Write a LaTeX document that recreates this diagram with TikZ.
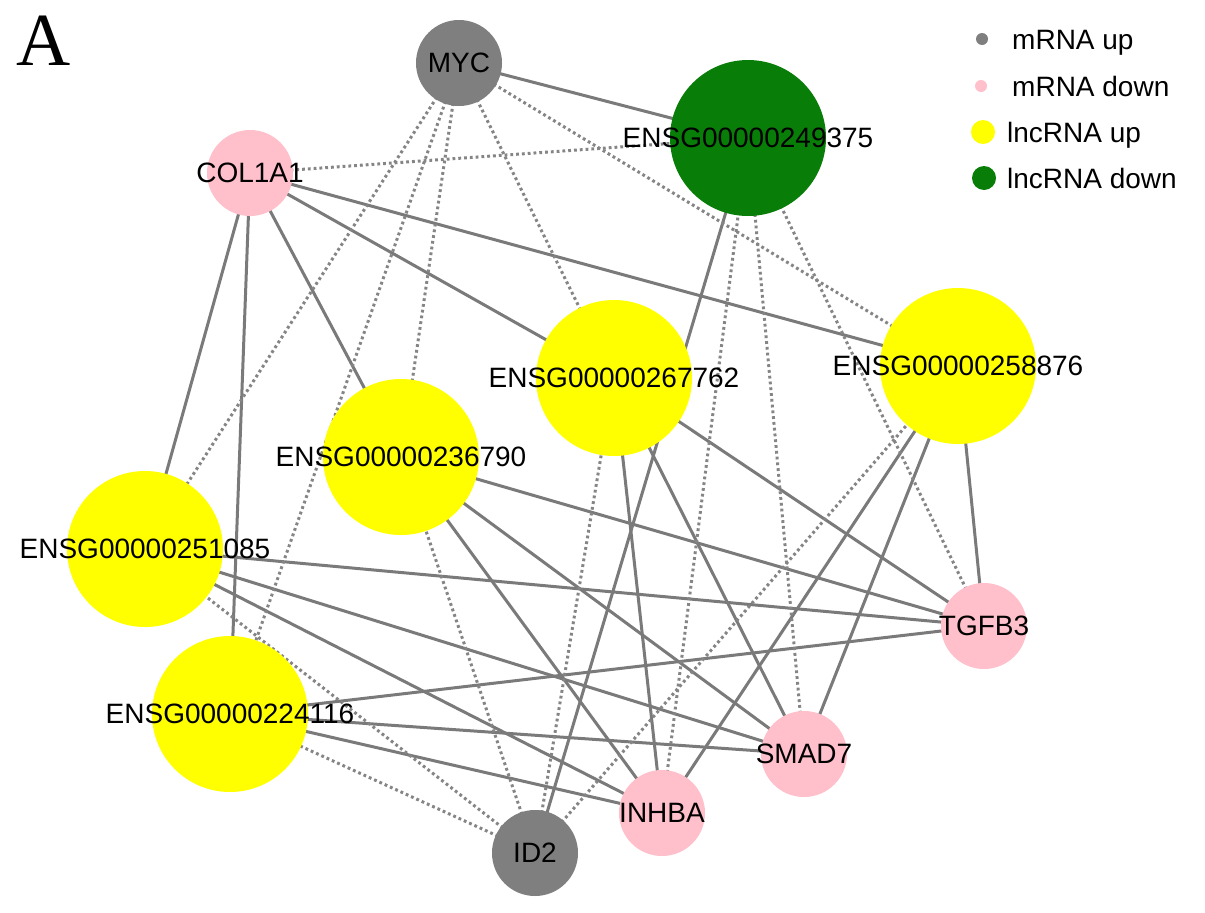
\documentclass[tikz,border=0pt]{standalone}
\usepackage{fontspec}
\setmainfont{Liberation Sans}
\newfontfamily\serifA{Liberation Serif}
\pgfdeclarelayer{bg}
\pgfsetlayers{bg,main}
\definecolor{ngray}{HTML}{7F7F7F}
\definecolor{npink}{HTML}{FFC0CB}
\definecolor{nyellow}{HTML}{FFFF00}
\definecolor{ngreen}{HTML}{087D08}
\definecolor{egray}{HTML}{7A7A7A}
\definecolor{dgray}{HTML}{858585}
\begin{document}
\begin{tikzpicture}[x=1pt,y=-1pt,
  gene/.style={circle,draw=none,minimum size=86pt,inner sep=0pt},
  lnc/.style={circle,draw=none,minimum size=156pt,inner sep=0pt},
  lab/.style={inner sep=0pt,font=\fontsize{28}{28}\selectfont,text=black},
  legtext/.style={inner sep=0pt,anchor=base west,font=\fontsize{28}{28}\selectfont,text=black},
  legdot/.style={circle,draw=none,inner sep=0pt},
  posedge/.style={draw=egray,line width=3pt},
  negedge/.style={draw=dgray,line width=3pt,dash pattern=on 2.8pt off 3pt}]
\useasboundingbox (0,0) rectangle (1205,913);

\node[font=\serifA\fontsize{75}{75}\selectfont,anchor=base,inner sep=0pt] (panelA) at (44,65) {A};

% mRNA nodes
\node[gene,fill=ngray] (MYC) at (459,63) {};
\node[gene,fill=npink] (COL) at (250,173) {};
\node[gene,fill=npink] (TGFB) at (984,626) {};
\node[gene,fill=npink] (SMAD) at (804,754) {};
\node[gene,fill=npink] (INHBA) at (662,813) {};
\node[gene,fill=ngray] (ID) at (535,853) {};
% lncRNA nodes
\node[lnc,fill=ngreen] (L249) at (748,138) {};
\node[lnc,fill=nyellow] (L267) at (614,378) {};
\node[lnc,fill=nyellow] (L258) at (958,366) {};
\node[lnc,fill=nyellow] (L236) at (401,457) {};
\node[lnc,fill=nyellow] (L251) at (145,549) {};
\node[lnc,fill=nyellow] (L224) at (230,714) {};

% labels
\node[lab] (tMYC) at (MYC) {MYC};
\node[lab] (tCOL) at (COL) {COL1A1};
\node[lab] (tTGFB) at (TGFB) {TGFB3};
\node[lab] (tSMAD) at (SMAD) {SMAD7};
\node[lab] (tINHBA) at (INHBA) {INHBA};
\node[lab] (tID) at (ID) {ID2};
\node[lab] (t249) at (L249) {ENSG00000249375};
\node[lab] (t267) at (L267) {ENSG00000267762};
\node[lab] (t258) at (L258) {ENSG00000258876};
\node[lab] (t236) at (L236) {ENSG00000236790};
\node[lab] (t251) at (L251) {ENSG00000251085};
\node[lab] (t224) at (L224) {ENSG00000224116};

% legend
\node[legdot,fill=ngray,minimum size=12pt] (d1) at (982,39) {};
\node[legdot,fill=npink,minimum size=12pt] (d2) at (981,86) {};
\node[legdot,fill=nyellow,minimum size=24pt] (d3) at (983,132) {};
\node[legdot,fill=ngreen,minimum size=24pt] (d4) at (984,178) {};
\node[legtext] (g1) at (1012,49) {mRNA up};
\node[legtext] (g2) at (1012,96) {mRNA down};
\node[legtext] (g3) at (1007,142) {lncRNA up};
\node[legtext] (g4) at (1007,188) {lncRNA down};

\begin{pgfonlayer}{bg}
\fill[white] (0,0) rectangle (1205,913);
% solid edges
\draw[posedge] (MYC.center) -- (L249.center);
\foreach \m in {COL,TGFB,SMAD,INHBA}{
  \foreach \l in {L258,L267,L236,L251,L224}{
    \draw[posedge] (\m.center) -- (\l.center);
  }
}
\draw[posedge] (ID.center) -- (L249.center);
% dotted edges
\foreach \l in {L251,L224,L236,L267,L258}{
  \draw[negedge] (MYC.center) -- (\l.center);
}
\foreach \m in {COL,TGFB,SMAD,INHBA}{
  \draw[negedge] (\m.center) -- (L249.center);
}
\foreach \l in {L258,L267,L236,L251,L224}{
  \draw[negedge] (ID.center) -- (\l.center);
}
\end{pgfonlayer}
\end{tikzpicture}
\end{document}
